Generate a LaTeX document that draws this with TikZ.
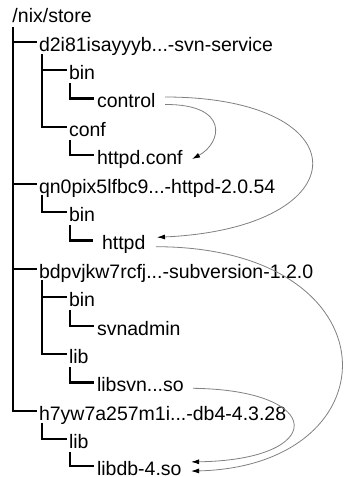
\documentclass[tikz,border=0pt]{standalone}
\usepackage{fontspec}
\setmainfont{Liberation Sans}
\usetikzlibrary{arrows.meta}
\tikzset{
  lbl/.style={inner sep=0pt, outer sep=0pt, anchor=base west, text height=18.6pt, text depth=0pt, font=\fontsize{19.5pt}{23pt}\selectfont},
  tree/.style={line width=2.3pt, black},
  dep/.style={line width=0.8pt, draw=black!50, -{Latex[black,length=8pt,width=5pt]}}
}
\begin{document}
\begin{tikzpicture}[x=1pt,y=-1pt]
\useasboundingbox (0,0) rectangle (344,477);
% rows
\node[lbl] (root)      at (12.5, 22.6)  {/nix/store};
\node[lbl] (svc)       at (39, 51.0)    {d2i81isayyyb...-svn-service};
\node[lbl] (svcbin)    at (69, 79.4)    {bin};
\node[lbl] (control)   at (97, 107.8)   {control};
\node[lbl] (conf)      at (69, 136.2)   {conf};
\node[lbl] (httpdconf) at (97, 164.6)   {httpd.conf};
\node[lbl] (httpdpkg)  at (39, 193.0)   {qn0pix5lfbc9...-httpd-2.0.54};
\node[lbl] (hbin)      at (69, 221.4)   {bin};
\node[lbl] (httpd)     at (102, 249.8)  {httpd};
\node[lbl] (svnpkg)    at (39, 278.2)   {bdpvjkw7rcfj...-subversion-1.2.0};
\node[lbl] (sbin)      at (69, 306.6)   {bin};
\node[lbl] (svnadmin)  at (97, 335.0)   {svnadmin};
\node[lbl] (slib)      at (69, 363.4)   {lib};
\node[lbl] (libsvn)    at (97, 391.8)   {libsvn...so};
\node[lbl] (dbpkg)     at (39, 420.2)   {h7yw7a257m1i...-db4-4.3.28};
\node[lbl] (dlib)      at (69, 448.6)   {lib};
\node[lbl] (libdb)     at (97, 475.0)   {libdb-4.so};
% tree tops
\coordinate (v0)  at (13.3, 27);
\coordinate (v1)  at (41.7, 54);
\coordinate (v2)  at (70, 83);
\coordinate (v4)  at (70, 139.7);
\coordinate (v6)  at (41.7, 194.5);
\coordinate (v7)  at (70, 224.9);
\coordinate (v9)  at (41.7, 280.2);
\coordinate (v10) at (70, 310.1);
\coordinate (v12) at (70, 366.9);
\coordinate (v14) at (41.7, 423.2);
\coordinate (v15) at (70, 452.1);
% tree lines
\draw[tree, shorten >=2pt] (v0) |- (svc.west);
\draw[tree, shorten >=2pt] (v0) |- (httpdpkg.west);
\draw[tree, shorten >=2pt] (v0) |- (svnpkg.west);
\draw[tree, shorten >=2pt] (v0) |- (dbpkg.west);
\draw[tree, shorten >=2pt] (v1) |- (svcbin.west);
\draw[tree, shorten >=2pt] (v1) |- (conf.west);
\draw[tree, shorten >=3pt] (v2) |- (control.west);
\draw[tree, shorten >=3pt] (v4) |- (httpdconf.west);
\draw[tree, shorten >=2pt] (v6) |- (hbin.west);
\draw[tree, shorten >=9pt] (v7) |- (httpd.west);
\draw[tree, shorten >=2pt] (v9) |- (sbin.west);
\draw[tree, shorten >=2pt] (v9) |- (slib.west);
\draw[tree, shorten >=3pt] (v10) |- (svnadmin.west);
\draw[tree, shorten >=3pt] (v12) |- (libsvn.west);
\draw[tree, shorten >=2pt] (v14) |- (dlib.west);
\draw[tree, shorten >=3pt] (v15) |- (libdb.west);
% dependency arrows
\draw[dep] ([shift={(9.5,-1.5)}]control.east) .. controls (362,97) and (362,228) .. ([shift={(11.6,-3.2)}]httpd.east);
\draw[dep] ([shift={(9.5,6)}]control.east) .. controls (230,104) and (222,143) .. ([shift={(9.4,3.7)}]httpdconf.east);
\draw[dep] ([shift={(10.6,6.2)}]httpd.east) .. controls (397,247) and (397,466) .. ([shift={(9.5,5.4)}]libdb.east);
\draw[dep] ([shift={(9.3,5.8)}]libsvn.east) .. controls (327,390) and (327,460) .. ([shift={(9.5,-3.8)}]libdb.east);
\end{tikzpicture}
\end{document}
